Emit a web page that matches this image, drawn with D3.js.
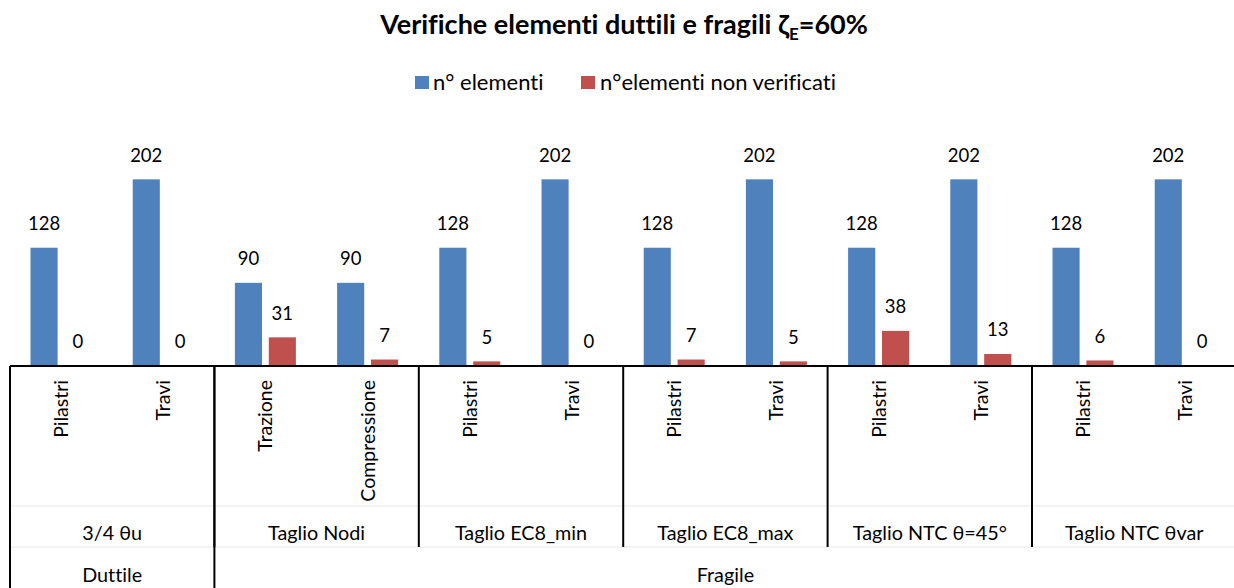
<!DOCTYPE html>
<html>
<head>
<meta charset="utf-8">
<script src="https://cdn.jsdelivr.net/npm/d3@7"></script>
<style>
  body { margin: 0; background: #fff; }
  text { font-family: Lato, "Open Sans", sans-serif; fill: #000; font-variant-ligatures: none; }
</style>
</head>
<body>
<div id="chartContainer"></div>
<script>
const categories = ["Pilastri", "Travi", "Trazione", "Compressione", "Pilastri", "Travi",
  "Pilastri", "Travi", "Pilastri", "Travi", "Pilastri", "Travi"];
const groups = ["3/4 θu", "Taglio Nodi", "Taglio EC8_min", "Taglio EC8_max", "Taglio NTC θ=45°", "Taglio NTC θvar"];
const types = [["Duttile", 1], ["Fragile", 5]];
const seriesNames = ["n° elementi", "n°elementi non verificati"];
const nElementi = [128, 202, 90, 90, 128, 202, 128, 202, 128, 202, 128, 202];
const nonVerificati = [0, 0, 31, 7, 5, 0, 7, 5, 38, 13, 6, 0];
const colors = ["#4F81BD", "#C0504D"];

const W = 1234, H = 588;
const left = 10, catW = 102.2;
const right = left + catW * categories.length;
const base = 366;
const lvl1 = 506, lvl2 = 547, lvl3 = 588;

const svg = d3.select("#chartContainer").append("svg")
  .attr("width", W)
  .attr("height", H);

// title
const title = svg.append("text")
  .attr("x", 624).attr("y", 34)
  .attr("text-anchor", "middle")
  .style("font-size", "27px")
  .style("font-weight", "bold");
title.append("tspan").text("Verifiche elementi duttili e fragili ζ");
title.append("tspan").attr("dy", 6).style("font-size", "17px").text("E");
title.append("tspan").attr("dy", -6).text("=60%");

// legend
const legendX = [415, 581];
seriesNames.forEach((s, i) => {
  const g = svg.append("g").attr("transform", `translate(${legendX[i]}, 83)`);
  g.append("rect").attr("x", 0).attr("y", -7).attr("width", 14).attr("height", 13).attr("fill", colors[i]);
  g.append("text").attr("x", i ? 19 : 18).attr("y", 7).style("font-size", "22px").text(s);
});

const x = d3.scaleBand().domain(d3.range(categories.length)).range([left, right]);
const xs = d3.scaleBand().domain([0, 1]).range([20.5, 81.5]).paddingInner(0.2);
const y = d3.scaleLinear().domain([0, 250]).range([base, 135]);

const data = [];
categories.forEach((c, i) => {
  data.push({ i: i, s: 0, v: nElementi[i] });
  data.push({ i: i, s: 1, v: nonVerificati[i] });
});

svg.selectAll("rect.bar")
  .data(data)
  .enter()
  .append("rect")
  .attr("class", "bar")
  .attr("x", d => x(d.i) + xs(d.s))
  .attr("y", d => y(d.v))
  .attr("width", xs.bandwidth())
  .attr("height", d => base - y(d.v))
  .attr("fill", d => colors[d.s]);

svg.selectAll("text.lbl")
  .data(data)
  .enter()
  .append("text")
  .attr("class", "lbl")
  .attr("x", d => x(d.i) + xs(d.s) + xs.bandwidth() / 2)
  .attr("y", d => y(d.v) - 24)
  .attr("dy", "0.35em")
  .attr("text-anchor", "middle")
  .style("font-size", "18.5px")
  .text(d => d.v);

// faint level separators
[lvl1, lvl2].forEach(yy => {
  svg.append("line").attr("x1", left).attr("x2", right).attr("y1", yy).attr("y2", yy)
    .attr("stroke", "#e8e8e8").attr("stroke-width", 1);
});

// axis line
svg.append("line").attr("x1", left).attr("x2", right).attr("y1", base).attr("y2", base)
  .attr("stroke", "#000").attr("stroke-width", 2);

// level 1 labels
svg.selectAll("text.cat")
  .data(categories)
  .enter()
  .append("text")
  .attr("class", "cat")
  .attr("transform", (d, i) => `translate(${x(i) + x.bandwidth() / 2}, 380) rotate(-90)`)
  .attr("dy", "0.35em")
  .attr("text-anchor", "end")
  .style("font-size", "19.5px")
  .text(d => d);

// level 2 groups
const gx = d3.scaleBand().domain(d3.range(groups.length)).range([left, right]);
groups.forEach((g, i) => {
  svg.append("text")
    .attr("x", gx(i) + gx.bandwidth() / 2).attr("y", 533).attr("dy", "0.35em")
    .attr("text-anchor", "middle").style("font-size", "19.8px").text(g);
  if (i > 0) {
    svg.append("line").attr("x1", gx(i)).attr("x2", gx(i)).attr("y1", base).attr("y2", lvl2)
      .attr("stroke", "#000").attr("stroke-width", 2);
  }
});

// level 3
let start = 0;
types.forEach(([t, n]) => {
  const x0 = gx(start), x1 = start + n < groups.length ? gx(start + n) : right;
  svg.append("text")
    .attr("x", (x0 + x1) / 2).attr("y", 575).attr("dy", "0.35em")
    .attr("text-anchor", "middle").style("font-size", "19.8px").text(t);
  svg.append("line").attr("x1", x0).attr("x2", x0).attr("y1", base).attr("y2", lvl3)
    .attr("stroke", "#000").attr("stroke-width", 2);
  start += n;
});
</script>
</body>
</html>
